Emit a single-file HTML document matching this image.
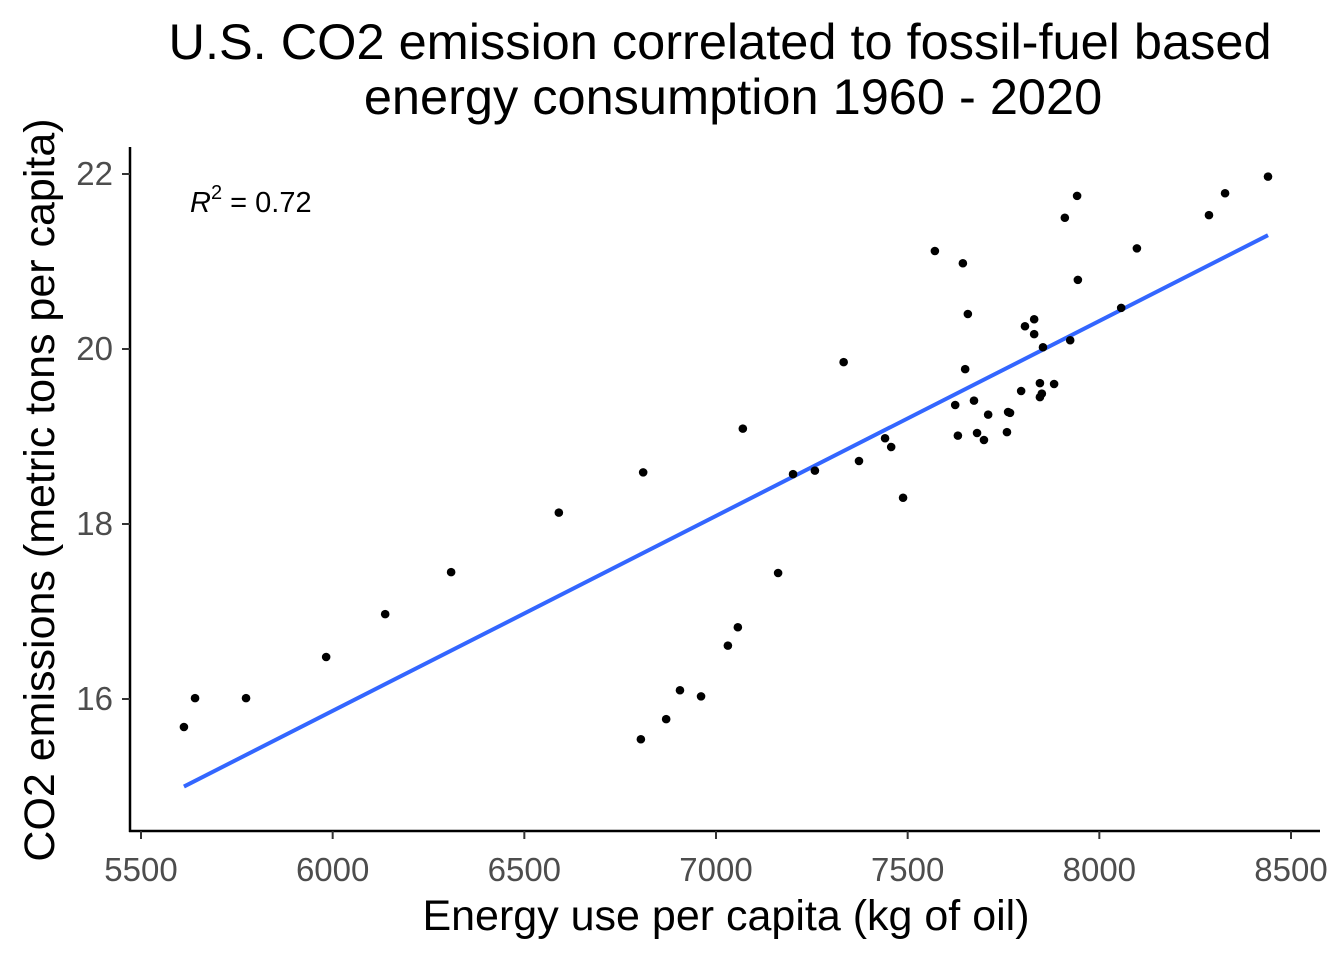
<!DOCTYPE html>
<html><head><meta charset="utf-8"><style>
body{margin:0;background:#fff;}
svg{display:block;font-family:"Liberation Sans",Arial,sans-serif;}
</style></head><body>
<svg id="chart" width="1344" height="960" viewBox="0 0 1344 960">
<text x="720" y="59" font-size="50.5" text-anchor="middle" fill="#000">U.S. CO2 emission correlated to fossil-fuel based</text>
<text x="733" y="114" font-size="50.5" text-anchor="middle" fill="#000">energy consumption 1960 - 2020</text>
<g id="plot"></g>
<text x="726" y="930" font-size="43" text-anchor="middle" fill="#000">Energy use per capita (kg of oil)</text>
<text transform="translate(54,490) rotate(-90)" font-size="43" text-anchor="middle" fill="#000">CO2 emissions (metric tons per capita)</text>
<text x="190" y="212" font-size="29" fill="#000"><tspan font-style="italic">R</tspan><tspan dy="-13" font-size="20">2</tspan><tspan dy="13"> = 0.72</tspan></text>
</svg>
<script>
const energy=[5612,5641,5774,5983,6137,6309,6590,6810,6804,6870,6906,6961,7031,7057,7070,7162,7201,7258,7333,7373,7441,7457,7488,7571,7624,7631,7644,7650,7657,7673,7681,7699,7710,7759,7762,7767,7796,7806,7830,7830,7845,7845,7850,7853,7882,7910,7924,7942,7944,8057,8098,8286,8328,8440];
const co2=[15.68,16.01,16.01,16.48,16.97,17.45,18.13,18.59,15.54,15.77,16.10,16.03,16.61,16.82,19.09,17.44,18.57,18.61,19.85,18.72,18.98,18.88,18.30,21.12,19.36,19.01,20.98,19.77,20.40,19.41,19.04,18.96,19.25,19.05,19.28,19.27,19.52,20.26,20.34,20.17,19.61,19.45,19.49,20.02,19.60,21.50,20.10,21.75,20.79,20.47,21.15,21.53,21.78,21.97];
const xTicks=[5500,6000,6500,7000,7500,8000,8500];
const yTicks=[16,18,20,22];
const NS="http://www.w3.org/2000/svg";
const sx=v=>141+(v-5500)*1150/3000;
const sy=v=>174+(22-v)*87.5;
const g=document.getElementById('plot');
function mk(t,a){const e=document.createElementNS(NS,t);for(const k in a)e.setAttribute(k,a[k]);g.appendChild(e);return e;}
let ax=mk('line',{x1:130,y1:147,x2:130,y2:832,stroke:'#000','stroke-width':2.5});


ax=mk('line',{x1:129,y1:831,x2:1320,y2:831,stroke:'#000','stroke-width':2.5});


xTicks.forEach(v=>{
 const t=mk('line',{x1:sx(v),y1:831,x2:sx(v),y2:839,stroke:'#333','stroke-width':2});
 
 
 const l=mk('text',{x:sx(v),y:881,'font-size':33,'text-anchor':'middle',fill:'#4d4d4d'});
 l.textContent=v;
 
 
});
yTicks.forEach(v=>{
 const t=mk('line',{x1:122,y1:sy(v),x2:130,y2:sy(v),stroke:'#333','stroke-width':2});
 
 
 const l=mk('text',{x:113,y:sy(v)+11,'font-size':33,'text-anchor':'end',fill:'#4d4d4d'});
 l.textContent=v;
 
 
});
const n=energy.length;
const mx=energy.reduce((a,b)=>a+b)/n,my=co2.reduce((a,b)=>a+b)/n;
let sxy=0,sxx=0;for(let i=0;i<n;i++){sxy+=(energy[i]-mx)*(co2[i]-my);sxx+=(energy[i]-mx)**2;}
const b=sxy/sxx,a0=my-b*mx;
const x0=Math.min(...energy),x1=Math.max(...energy);
const rl=mk('line',{x1:sx(x0),y1:sy(a0+b*x0),x2:sx(x1),y2:sy(a0+b*x1),stroke:'#3366FF','stroke-width':4});


for(let i=0;i<n;i++){
 const c=mk('circle',{cx:sx(energy[i]),cy:sy(co2[i]),r:4.3,fill:'#000'});
 
 
}
</script>
</body></html>
